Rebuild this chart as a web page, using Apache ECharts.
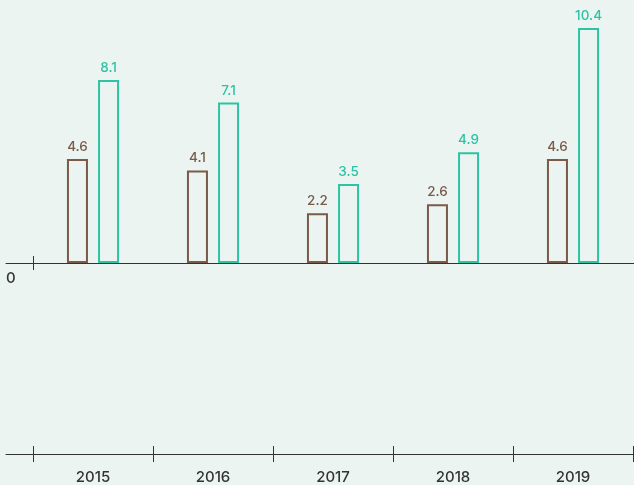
<!DOCTYPE html>
<html>
<head>
<meta charset="utf-8">
<script src="https://cdn.jsdelivr.net/npm/echarts@6/dist/echarts.min.js"></script>
<style>
  html, body { margin: 0; padding: 0; background: #ebf4f0; }
  #chart { width: 634px; height: 485px; }
</style>
</head>
<body>
<div id="chart"></div>
<script>
// chart data
var years = ['2015', '2016', '2017', '2018', '2019'];
var brownVals = [4.6, 4.1, 2.2, 2.6, 4.6];
var tealVals = [8.1, 7.1, 3.5, 4.9, 10.4];
var zeroLabel = [0];

var brown = '#7a5a49';
var teal = '#2ec3a4';
var ink = '#333333';
var font = 'Inter, "Noto Sans", sans-serif';

var chart = echarts.init(document.getElementById('chart'));

var yRange = { min: -8.45, max: 10.4 };

var option = {
    backgroundColor: '#ebf4f0',
    animation: false,
    grid: [
        { left: 33, right: 1, top: 28, bottom: 31 },   // bars
        { left: 6, right: 0, top: 28, bottom: 31 }     // long lines
    ],
    xAxis: [
        {   // category labels + crossing ticks at the bottom
            type: 'category', gridIndex: 0, data: years, position: 'bottom',
            offset: -8,
            axisLine: { show: false, onZero: false },
            axisTick: { show: true, length: 16, lineStyle: { color: ink, width: 1 } },
            axisLabel: { margin: 24, color: ink, fontSize: 15, fontWeight: 500, fontFamily: font }
        },
        {   // single tick on the zero line (placed from the top edge)
            type: 'value', gridIndex: 0, min: 0, max: 5, position: 'top',
            offset: -242,
            axisLine: { show: false, onZero: false },
            splitLine: { show: false },
            axisTick: { show: true, length: 14, customValues: [0], lineStyle: { color: ink, width: 1 } },
            axisLabel: { show: false }
        },
        {   // zero line
            type: 'category', gridIndex: 1, data: years,
            axisLine: { show: true, onZero: true, lineStyle: { color: ink, width: 1 } },
            axisTick: { show: false }, axisLabel: { show: false }
        },
        {   // bottom line
            type: 'category', gridIndex: 1, data: years, position: 'bottom',
            axisLine: { show: true, onZero: false, lineStyle: { color: ink, width: 1 } },
            axisTick: { show: false }, axisLabel: { show: false }
        }
    ],
    yAxis: [
        {
            type: 'value', gridIndex: 0, min: yRange.min, max: yRange.max,
            axisLine: { show: false }, axisTick: { show: false }, splitLine: { show: false },
            axisLabel: {
                show: true, customValues: zeroLabel, align: 'left', margin: 27,
                verticalAlign: 'top', padding: [8, 0, 0, 0],
                color: ink, fontSize: 15, fontWeight: 500, fontFamily: font
            }
        },
        {
            type: 'value', gridIndex: 1, min: yRange.min, max: yRange.max,
            show: false, splitLine: { show: false }
        }
    ],
    series: [
        {
            type: 'bar', xAxisIndex: 0, yAxisIndex: 0, data: brownVals,
            barWidth: 21, barGap: '48%',
            itemStyle: { color: 'rgba(0,0,0,0)', borderColor: brown, borderWidth: 2 },
            label: { show: true, position: 'top', distance: 5, color: brown, fontSize: 13.5, fontWeight: 500, fontFamily: font }
        },
        {
            type: 'bar', xAxisIndex: 0, yAxisIndex: 0, data: tealVals,
            barWidth: 21,
            itemStyle: { color: 'rgba(0,0,0,0)', borderColor: teal, borderWidth: 2 },
            label: { show: true, position: 'top', distance: 5, color: teal, fontSize: 13.5, fontWeight: 500, fontFamily: font }
        }
    ]
};

chart.setOption(option);
</script>
</body>
</html>
